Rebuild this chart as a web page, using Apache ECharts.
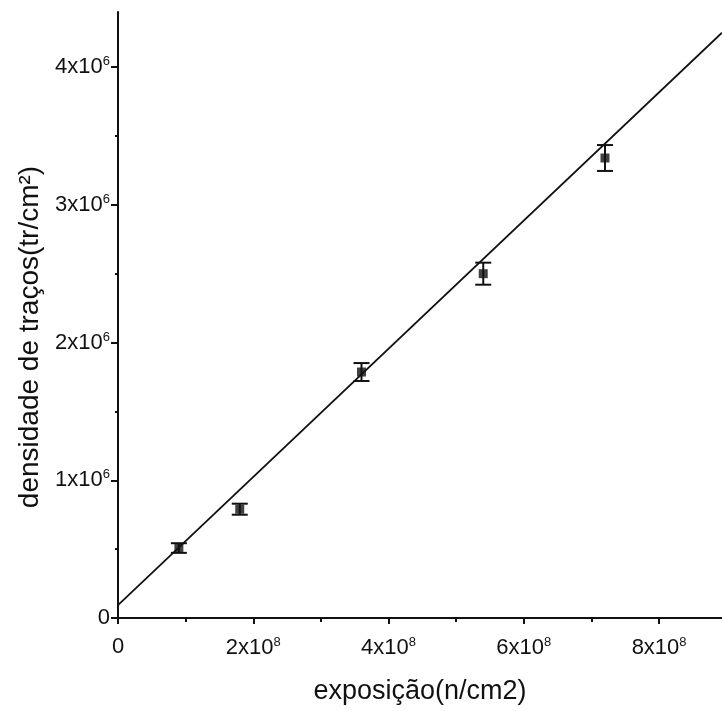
<!DOCTYPE html>
<html>
<head>
<meta charset="utf-8">
<script src="https://cdn.jsdelivr.net/npm/echarts@6/dist/echarts.min.js"></script>
<style>
  html, body { margin: 0; padding: 0; background: #fff; }
  #chart { width: 722px; height: 711px; }
</style>
</head>
<body>
<div id="chart"></div>
<script>
// exposure (n/cm2), track density (tr/cm2), error
var exposure = [0.9e8, 1.8e8, 3.6e8, 5.4e8, 7.2e8];
var density = [0.508e6, 0.79e6, 1.786e6, 2.50e6, 3.34e6];
var densityErr = [0.035e6, 0.04e6, 0.065e6, 0.08e6, 0.094e6];

// fitted line, read at both ends of the plot
var fitX = [0, 8.93e8];
var fitY = [0.094e6, 4.25e6];

var xTicks = [0, 2e8, 4e8, 6e8, 8e8];
var xMinor = [1e8, 3e8, 5e8, 7e8];
var yTicks = [0, 1e6, 2e6, 3e6, 4e6];
var yMinor = [0.5e6, 1.5e6, 2.5e6, 3.5e6];

var FONT = '"Liberation Sans", Arial, sans-serif';

function sciLabel(v, exp) {
  if (v === 0) return '{b|0}';
  var m = Math.round(v / Math.pow(10, exp));
  return '{b|' + m + 'x10}{s|' + exp + '}';
}

var richLabel = {
  b: { fontSize: 22, fontFamily: FONT, color: '#111' },
  s: { fontSize: 13, fontFamily: FONT, color: '#111', padding: [0, 0, 11, 0] }
};

var myChart = echarts.init(document.getElementById('chart'));

var points = exposure.map(function (x, i) { return [x, density[i]]; });
var errData = exposure.map(function (x, i) {
  return [x, density[i] - densityErr[i], density[i] + densityErr[i]];
});

myChart.setOption({
  animation: false,
  grid: { left: 118, right: 0, top: 12, bottom: 93 },
  xAxis: [{
    type: 'value',
    min: 0, max: 8.93e8, interval: 2e8,
    name: 'exposição(n/cm2)',
    nameLocation: 'middle',
    nameGap: 60,
    nameTextStyle: { fontSize: 27, fontFamily: FONT, color: '#111' },
    axisLine: { lineStyle: { color: '#111', width: 2 } },
    axisTick: { length: 6, customValues: xTicks, lineStyle: { color: '#111', width: 2 } },
    axisLabel: {
      customValues: xTicks, margin: 18,
      formatter: function (v) { return sciLabel(v, 8); },
      rich: richLabel
    },
    splitLine: { show: false }
  }, {
    type: 'value', position: 'bottom',
    min: 0, max: 8.93e8,
    axisLine: { show: false },
    axisTick: { length: 4, customValues: xMinor, lineStyle: { color: '#111', width: 2 } },
    axisLabel: { show: false },
    splitLine: { show: false }
  }],
  yAxis: [{
    type: 'value',
    min: 0, max: 4.4e6, interval: 1e6,
    name: 'densidade de traços(tr/cm²)',
    nameLocation: 'middle',
    nameGap: 74,
    nameTextStyle: { fontSize: 28, fontFamily: FONT, color: '#111', padding: [0, 44, 0, 0] },
    axisLine: { lineStyle: { color: '#111', width: 2 } },
    axisTick: { length: 7, customValues: yTicks, lineStyle: { color: '#111', width: 2 } },
    axisLabel: {
      customValues: yTicks, margin: 8,
      formatter: function (v) { return sciLabel(v, 6); },
      rich: richLabel
    },
    splitLine: { show: false }
  }, {
    type: 'value', position: 'left',
    min: 0, max: 4.4e6,
    axisLine: { show: false },
    axisTick: { length: 3, customValues: yMinor, lineStyle: { color: '#111', width: 2 } },
    axisLabel: { show: false },
    splitLine: { show: false }
  }],
  series: [{
    type: 'line',
    data: fitX.map(function (x, i) { return [x, fitY[i]]; }),
    symbol: 'none',
    lineStyle: { color: '#111', width: 1.8 },
    z: 2
  }, {
    type: 'custom',
    data: errData,
    renderItem: function (params, api) {
      var lo = api.coord([api.value(0), api.value(1)]);
      var hi = api.coord([api.value(0), api.value(2)]);
      var hw = 8;
      var st = { stroke: '#111', lineWidth: 2 };
      return {
        type: 'group',
        children: [
          { type: 'line', shape: { x1: lo[0], y1: lo[1], x2: hi[0], y2: hi[1] }, style: st },
          { type: 'line', shape: { x1: lo[0] - hw, y1: lo[1], x2: lo[0] + hw, y2: lo[1] }, style: st },
          { type: 'line', shape: { x1: hi[0] - hw, y1: hi[1], x2: hi[0] + hw, y2: hi[1] }, style: st }
        ]
      };
    },
    z: 3
  }, {
    type: 'scatter',
    data: points,
    symbol: 'rect',
    symbolSize: 9,
    itemStyle: { color: '#111' },
    z: 4
  }]
});
</script>
</body>
</html>
